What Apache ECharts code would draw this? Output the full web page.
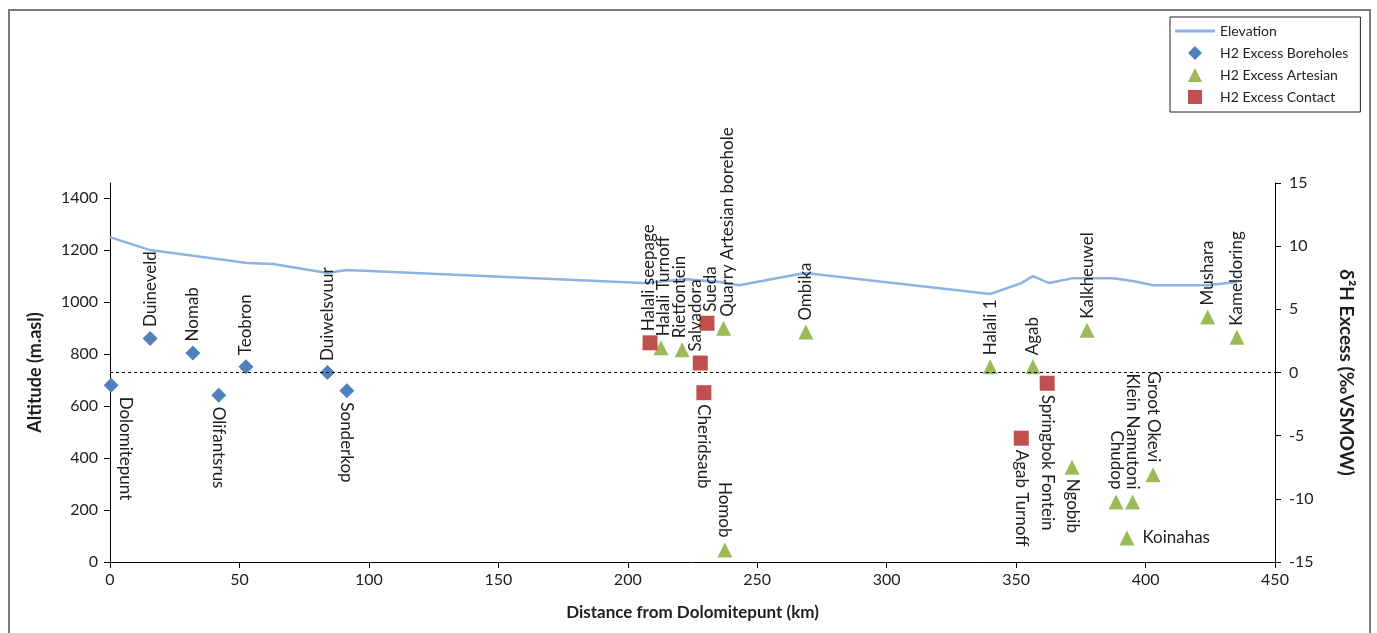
<!DOCTYPE html>
<html>
<head>
<meta charset="utf-8">
<script src="https://cdn.jsdelivr.net/npm/echarts@6/dist/echarts.min.js"></script>
<style>
html,body{margin:0;padding:0;background:#fff;}
#chart{width:1377px;height:633px;}
</style>
</head>
<body>
<div id="chart"></div>
<script>
// ---- Data ----
const elevKm = [0, 15.5, 53, 63, 84, 91.5, 206, 223, 235.6, 243, 268.4, 340, 352, 356.5, 362.7, 372, 387.4, 395, 403, 423.7, 435.3];
const elevM  = [1250, 1200, 1150, 1146, 1112, 1123, 1073, 1088, 1077, 1065, 1112, 1031, 1073, 1100, 1073, 1092, 1092, 1081, 1065, 1065, 1077];

const boreNames = ['Dolomitepunt', 'Duineveld', 'Nomab', 'Olifantsrus', 'Teobron', 'Duiwelsvuur', 'Sonderkop'];
const boreKm    = [0.4, 15.5, 32, 42, 52.5, 84, 91.5];
const boreExc   = [-1.0, 2.7, 1.55, -1.8, 0.45, 0.0, -1.45];

const artNames = ['Halali Turnoff', 'Rietfontein', 'Quarry Artesian borehole', 'Homob', 'Ombika', 'Halali 1', 'Agab', 'Ngobib', 'Kalkheuwel', 'Chudop', 'Koinahas', 'Klein Namutoni', 'Groot Okevi', 'Mushara', 'Kameldoring'];
const artKm    = [212.8, 221, 237, 237.5, 268.8, 340, 356.5, 371.6, 377.4, 388.6, 392.8, 395, 402.9, 424, 435.3];
const artExc   = [1.95, 1.8, 3.5, -14.05, 3.2, 0.45, 0.45, -7.5, 3.35, -10.25, -13.1, -10.25, -8.1, 4.4, 2.8];

const conNames = ['Halali seepage', 'Salvadora', 'Sueda', 'Cheridsaub', 'Agab Turnoff', 'Springbok Fontein'];
const conKm    = [208.6, 228, 230.6, 229.4, 352, 362];
const conExc   = [2.35, 0.75, 3.9, -1.6, -5.2, -0.85];

const xTicks = [0, 50, 100, 150, 200, 250, 300, 350, 400, 450];
const leftTicks = [0, 200, 400, 600, 800, 1000, 1200, 1400];

// ---- Label placement (styling) ----
const below = ['Dolomitepunt', 'Olifantsrus', 'Sonderkop', 'Cheridsaub', 'Agab Turnoff', 'Springbok Fontein', 'Ngobib'];
const aboveDown = ['Homob', 'Chudop', 'Klein Namutoni', 'Groot Okevi'];
const rightSide = ['Koinahas'];
// horizontal screen shift (px) of some crowded labels
const shiftX = {'Dolomitepunt': 14, 'Salvadora': -5, 'Sueda': 4, 'Quarry Artesian borehole': 4, 'Halali Turnoff': 3, 'Rietfontein': -3, 'Halali seepage': -2};
const labelColor = '#1e1e1e';
const FONT = 'Lato';

function labelFor(name) {
  const base = {show: true, formatter: '{b}', color: labelColor, fontSize: 17, fontFamily: FONT};
  const dx = shiftX[name] || 0;
  if (below.includes(name)) {
    return Object.assign(base, {position: 'bottom', rotate: -90, align: 'left', verticalAlign: 'middle', distance: 4, offset: [0, -dx]});
  }
  if (aboveDown.includes(name)) return Object.assign(base, {position: 'top', rotate: -90, align: 'right', verticalAlign: 'middle', distance: 5, offset: [0, -dx]});
  if (rightSide.includes(name)) return Object.assign(base, {position: 'right', rotate: 0, distance: 8});
  return Object.assign(base, {position: 'top', rotate: 90, align: 'left', verticalAlign: 'middle', distance: 4, offset: [0, dx]});
}
function pts(names, km, exc) {
  return names.map((n, i) => ({name: n, value: [km[i], exc[i]], label: labelFor(n)}));
}

const chart = echarts.init(document.getElementById('chart'), null, {renderer: 'canvas'});
const axisLineStyle = {color: '#000', width: 1};
const option = {
  animation: false,
  backgroundColor: '#fff',
  textStyle: {fontFamily: FONT, color: labelColor},
  graphic: [{
    type: 'rect', silent: true, z: -1,
    shape: {x: 9, y: 10, width: 1361, height: 640},
    style: {fill: 'none', stroke: '#7a7a7a', lineWidth: 2}
  }],
  legend: {
    orient: 'vertical', left: 1170, top: 17,
    padding: [7, 12, 8, 5],
    itemWidth: 40, itemHeight: 14, itemGap: 8,
    symbolKeepAspect: true,
    borderColor: '#222', borderWidth: 1, backgroundColor: '#fff',
    textStyle: {fontSize: 14, color: '#222', fontFamily: FONT},
    data: [
      {name: 'Elevation', icon: 'path://M0,0 L40,0 L40,3 L0,3 Z', itemStyle: {color: '#8db3e2'}},
      {name: 'H2 Excess Boreholes', icon: 'path://M7,0 L14,7 L7,14 L0,7 Z'},
      {name: 'H2 Excess Artesian', icon: 'path://M7,0 L14,14 L0,14 Z'},
      {name: 'H2 Excess Contact', icon: 'path://M0,0 L14,0 L14,14 L0,14 Z'}
    ]
  },
  grid: {left: 110, right: 102, top: 183, bottom: 71, containLabel: false},
  xAxis: {
    type: 'value', min: 0, max: 450, interval: 50,
    axisLine: {lineStyle: axisLineStyle},
    axisTick: {show: true, length: 6, lineStyle: axisLineStyle},
    axisLabel: {fontSize: 16, color: labelColor, margin: 10},
    splitLine: {show: false},
    name: 'Distance from Dolomitepunt (km)', nameLocation: 'middle', nameGap: 42,
    nameTextStyle: {fontSize: 17, fontWeight: 'bold', color: labelColor}
  },
  yAxis: [{
    type: 'value', min: 0, max: 1458, position: 'left',
    axisLine: {show: true, lineStyle: axisLineStyle},
    axisTick: {show: true, length: 6, lineStyle: axisLineStyle, customValues: leftTicks},
    axisLabel: {fontSize: 16, color: labelColor, margin: 12, customValues: leftTicks, formatter: v => String(v)},
    splitLine: {show: false},
    name: 'Altitude (m.asl)', nameLocation: 'middle', nameGap: 66, nameRotate: 90,
    nameTextStyle: {fontSize: 18, fontWeight: 'bold', color: labelColor}
  }, {
    type: 'value', min: -15, max: 15, interval: 5, position: 'right',
    axisLine: {show: true, lineStyle: axisLineStyle},
    axisTick: {show: true, length: 6, lineStyle: axisLineStyle},
    axisLabel: {fontSize: 16, color: labelColor, margin: 14},
    splitLine: {show: false},
    name: 'δ²H Excess (‰VSMOW)', nameLocation: 'middle', nameGap: 62, nameRotate: -90,
    nameTextStyle: {fontSize: 19, fontWeight: 'bold', color: labelColor}
  }],
  series: [{
    name: 'Elevation', type: 'line', yAxisIndex: 0,
    data: elevKm.map((k, i) => [k, elevM[i]]),
    symbol: 'none', color: '#8db3e2',
    lineStyle: {color: '#8db3e2', width: 2.5}, z: 2
  }, {
    name: 'H2 Excess Boreholes', type: 'scatter', yAxisIndex: 1,
    symbol: 'diamond', symbolSize: 15, color: '#4f81bd', itemStyle: {opacity: 1},
    data: pts(boreNames, boreKm, boreExc), z: 3,
    markLine: {
      silent: true, symbol: 'none', animation: false,
      label: {show: false},
      lineStyle: {color: '#000', width: 1, type: [3, 3]},
      data: [{yAxis: 0}]
    }
  }, {
    name: 'H2 Excess Artesian', type: 'scatter', yAxisIndex: 1,
    symbol: 'triangle', symbolSize: 15, color: '#9bbb59', itemStyle: {opacity: 1},
    data: pts(artNames, artKm, artExc), z: 3
  }, {
    name: 'H2 Excess Contact', type: 'scatter', yAxisIndex: 1,
    symbol: 'rect', symbolSize: 15, color: '#c0504d', itemStyle: {opacity: 1},
    data: pts(conNames, conKm, conExc), z: 3
  }]
};
chart.setOption(option);
</script>
</body>
</html>
